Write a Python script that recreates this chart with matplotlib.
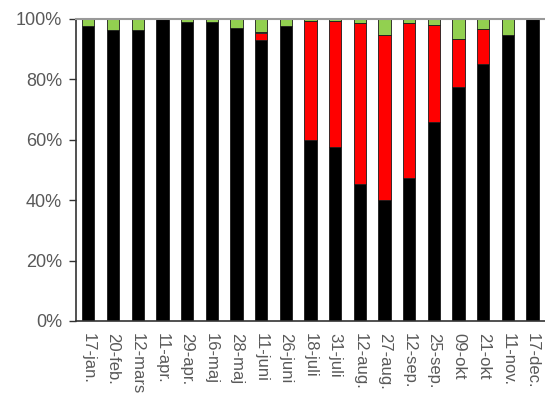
import numpy as np
import matplotlib.pyplot as plt
from matplotlib.ticker import PercentFormatter

plt.rcParams['font.family'] = ['Liberation Sans', 'DejaVu Sans']

labels = ['17-jan.', '20-feb.', '12-mars', '11-apr.', '29-apr.', '16-maj', '28-maj',
          '11-juni', '26-juni', '18-juli', '31-juli', '12-aug.', '27-aug.', '12-sep.',
          '25-sep.', '09-okt', '21-okt', '11-nov.', '17-dec.']
black = [97.8, 96.5, 96.5, 100, 99, 99, 97, 93, 97.8, 60, 57.5, 45.5, 40, 47.5,
         66, 77.5, 85.2, 94.8, 100]
red = [0, 0, 0, 0, 0, 0, 0, 2.2, 0, 39.3, 41.9, 53.3, 54.7, 51.3,
       32, 16, 11.5, 0, 0]
gap = [0, 0, 0, 0, 0, 0, 0, 0.5, 0, 0, 0, 0, 0, 0, 0, 0, 0, 0, 0]
green = [2.2, 3.5, 3.5, 0, 1, 1, 3, 4.3, 2.2, 0.7, 0.6, 1.2, 5.3, 1.2,
         2, 6.5, 3.3, 5.2, 0]

x = np.arange(len(labels))
fig = plt.figure(figsize=(5.45, 3.94), dpi=100)
ax = fig.add_axes([0.1394, 0.1853, 0.8606, 0.7665])

bottom = np.zeros(len(labels))
for vals, col in [(black, '#000000'), (red, '#ff0000'), (gap, '#ffffff'), (green, '#92d050')]:
    ax.bar(x, vals, 0.5, bottom=bottom, color=col, edgecolor='#1a1a1a', linewidth=0.6)
    bottom += np.array(vals)

ax.set_xlim(-0.5, len(labels) - 0.5)
ax.set_ylim(0, 100)
ax.set_yticks(range(0, 101, 20))
ax.yaxis.set_major_formatter(PercentFormatter(decimals=0))
ax.set_xticks(x)
ax.set_xticklabels(labels, rotation=270, va='top', ha='center')

ax.tick_params(axis='y', length=5, width=1, color='#333333', pad=5, labelsize=13, labelcolor='#595959')
ax.tick_params(axis='x', length=0, pad=9, labelsize=12, labelcolor='#595959')

ax.spines['right'].set_visible(False)
ax.spines['top'].set_color('#999999')
ax.spines['top'].set_linewidth(1.5)
ax.spines['left'].set_color('#333333')
ax.spines['bottom'].set_color('#333333')
ax.spines['left'].set_linewidth(1.2)
ax.spines['bottom'].set_linewidth(1.2)

fig.savefig('out.png', dpi=100)
